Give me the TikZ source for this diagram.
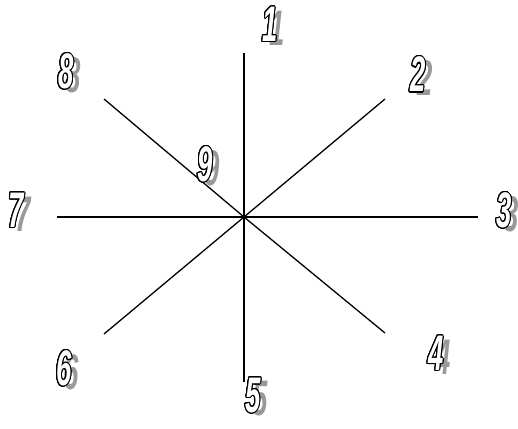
\documentclass[tikz,border=0pt]{standalone}
\usepackage{fontspec}
\setmainfont{Liberation Sans}
\usepackage{contour}
\contourlength{1.3pt}
\contournumber{24}
\newcommand{\digitlbl}[1]{{\bfseries\itshape\fontsize{50}{50}\selectfont\contour{black}{\textcolor{white}{#1}}}}
\newcommand{\digitshadow}[1]{{\bfseries\itshape\fontsize{50}{50}\selectfont\textcolor{black!40}{#1}}}
\begin{document}
\begin{tikzpicture}[x=1pt,y=-1pt,
  ray/.style={line width=1.3pt},
  lbl/.style={inner sep=0pt,xscale=0.55,transform shape},
]
\useasboundingbox (0,0) rectangle (518,428);
\coordinate (c) at (244,217);
\coordinate (e1) at (244,53);
\coordinate (e2) at (385,99);
\coordinate (e3) at (478,217);
\coordinate (e4) at (385,333);
\coordinate (e5) at (244,382);
\coordinate (e6) at (104,334);
\coordinate (e7) at (57,217);
\coordinate (e8) at (104,99);
\foreach \i in {1,...,8} \draw[ray] (c) -- (e\i);
\foreach \n/\x/\y in {1/270/25, 2/418/75, 3/504/211, 4/436/354, 5/253/396, 6/64/369, 7/16/211, 8/66/72, 9/205/165} {
  \node[lbl] (s\n) at (\x+7,\y+3) {\digitshadow{\n}};
  \node[lbl] (n\n) at (\x,\y) {\digitlbl{\n}};
}
\end{tikzpicture}
\end{document}
